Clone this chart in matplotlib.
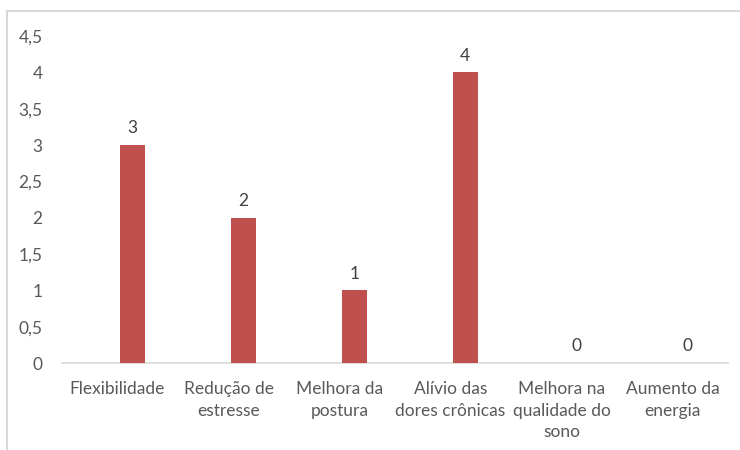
import matplotlib
matplotlib.use("Agg")
import matplotlib.pyplot as plt
from matplotlib.patches import Rectangle

categories = ["Flexibilidade", "Redução de\nestresse", "Melhora da\npostura",
              "Alívio das\ndores crônicas", "Melhora na\nqualidade do\nsono",
              "Aumento da\nenergia"]
values = [3, 2, 1, 4, 0, 0]
yticks = [0, 0.5, 1, 1.5, 2, 2.5, 3, 3.5, 4, 4.5]

BAR = "#C0504D"
TXT = "#595959"
plt.rcParams["font.family"] = ["Lato", "DejaVu Sans"]

fig = plt.figure(figsize=(7.4, 4.5), dpi=100)
ax = fig.add_axes([62 / 740, 1 - 363 / 450, 666 / 740, 327 / 450])

# chart border (cut off at right/bottom like the source)
fig.patches.append(Rectangle((7 / 740, -0.1), 1.2, 1 - 11 / 450 + 0.1,
                             transform=fig.transFigure, fill=False,
                             edgecolor="#D9D9D9", linewidth=1.5))

x = list(range(len(categories)))
offset = 0.133  # bars sit right of the category centre (empty 2nd series)
bx = [xi + offset for xi in x]
ax.bar(bx, values, width=0.222, color=BAR, zorder=3)
for xi, v in zip(bx, values):
    ax.text(xi, v + 0.12, f"{v}", ha="center", va="bottom", fontsize=12.5, color="#404040")

ax.set_xlim(-0.5, len(categories) - 0.5)
ax.set_ylim(0, 4.5)
ax.set_yticks(yticks)
ax.set_yticklabels([f"{t:g}".replace(".", ",") for t in yticks])
ax.set_xticks(x)
ax.set_xticklabels(categories, linespacing=1.42)
ax.tick_params(axis="both", length=0, labelsize=12.5, labelcolor=TXT)
ax.tick_params(axis="y", pad=14)
ax.tick_params(axis="x", pad=13)
for s in ["top", "right", "left"]:
    ax.spines[s].set_visible(False)
ax.spines["bottom"].set_color("#D9D9D9")
ax.spines["bottom"].set_linewidth(1.2)

fig.savefig("out.png", dpi=100)
